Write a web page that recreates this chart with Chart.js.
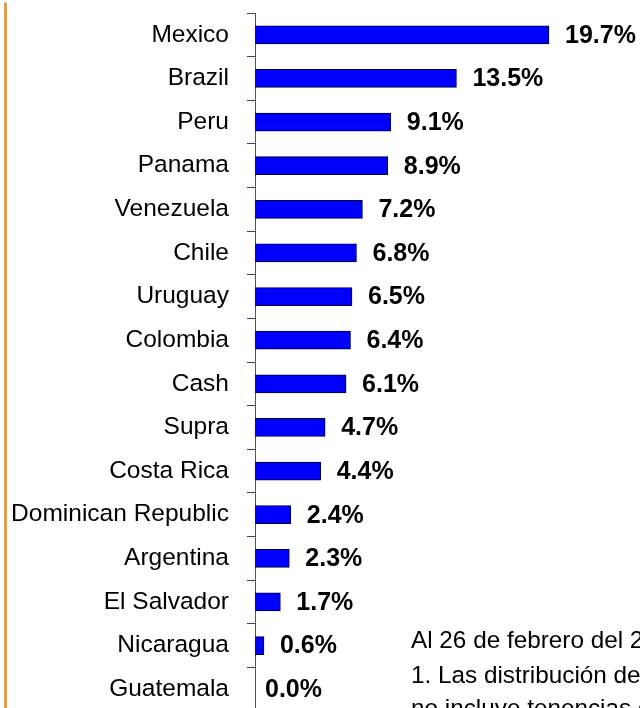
<!DOCTYPE html>
<html>
<head>
<meta charset="utf-8">
<script src="https://cdn.jsdelivr.net/npm/chart.js@4/dist/chart.umd.min.js"></script>
<style>
  html, body { margin: 0; padding: 0; background: #fff; overflow: hidden; }
  #wrap { position: relative; width: 640px; height: 711px; }
  #edge { position: absolute; left: 4px; top: 2px; width: 3px; height: 720px; background: #E8A03C; border-radius: 2px; }
  .note { position: absolute; left: 411px; font-family: "Liberation Sans", Arial, sans-serif; font-size: 24.3px; color: #000; white-space: nowrap; line-height: 24px; }
</style>
</head>
<body>
<div id="wrap">
  <canvas id="myChart" width="640" height="711"></canvas>
  <div id="edge"></div>
  <div class="note" style="top:628px">Al 26 de febrero del 2010</div>
  <div class="note" style="top:663px">1. Las distribución de la cartera</div>
  <div class="note" style="top:696px">no incluye tenencias de</div>
</div>
<script>
const countries = ['Mexico', 'Brazil', 'Peru', 'Panama', 'Venezuela', 'Chile', 'Uruguay', 'Colombia',
    'Cash', 'Supra', 'Costa Rica', 'Dominican Republic', 'Argentina', 'El Salvador', 'Nicaragua', 'Guatemala'];
const shares = [19.7, 13.5, 9.1, 8.9, 7.2, 6.8, 6.5, 6.4, 6.1, 4.7, 4.4, 2.4, 2.3, 1.7, 0.6, 0.0];

const AXIS_X = 255;

// draws "19.7%" etc to the right of each bar
const valueLabels = {
    id: 'valueLabels',
    afterDatasetsDraw(chart) {
        const ctx = chart.ctx;
        const meta = chart.getDatasetMeta(0);
        ctx.save();
        ctx.font = 'bold 25px "Liberation Sans", Arial, sans-serif';
        ctx.fillStyle = '#000';
        ctx.textBaseline = 'middle';
        ctx.textAlign = 'left';
        meta.data.forEach((bar, i) => {
            const v = shares[i];
            const x = v > 0 ? bar.x + 16 : bar.x + 10;
            ctx.fillText(v.toFixed(1) + '%', x, bar.y + 1);
        });
        ctx.restore();
    }
};

const ctx = document.getElementById('myChart').getContext('2d');
const myChart = new Chart(ctx, {
    type: 'bar',
    data: {
        labels: countries,
        datasets: [{
            data: shares,
            backgroundColor: '#0000FF',
            borderColor: '#000033',
            borderWidth: 1,
            barThickness: 18
        }]
    },
    options: {
        indexAxis: 'y',
        responsive: false,
        animation: false,
        layout: {
            padding: { top: 13, right: 0, bottom: 0, left: 0 }
        },
        plugins: {
            legend: { display: false },
            tooltip: { enabled: false }
        },
        scales: {
            x: {
                display: false,
                min: 0,
                max: 25.8
            },
            y: {
                afterFit(scale) {
                    scale.width = AXIS_X;
                    scale.paddingTop = 0;
                    scale.paddingBottom = 0;
                },
                border: { display: true, color: '#555', width: 1 },
                grid: {
                    drawOnChartArea: false,
                    drawTicks: true,
                    tickLength: 8,
                    color: '#444',
                    offset: true
                },
                ticks: {
                    color: '#000',
                    padding: 18,
                    font: { family: '"Liberation Sans", Arial, sans-serif', size: 24.5 }
                }
            }
        }
    },
    plugins: [valueLabels]
});
</script>
</body>
</html>
